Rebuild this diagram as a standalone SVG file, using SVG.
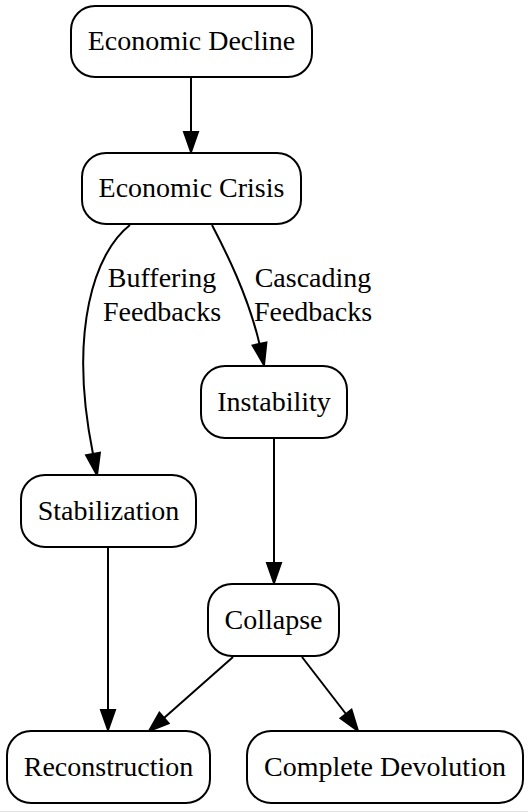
<svg xmlns="http://www.w3.org/2000/svg" width="528" height="812" viewBox="0 0 528 812">
<style>
.node rect{fill:#fff;stroke:#000;stroke-width:2}
text{font-family:"Liberation Serif","Times New Roman",serif;font-size:28px;fill:#000;text-anchor:middle}
.edge path{fill:none;stroke:#000;stroke-width:2}
.edge polygon{fill:#000;stroke:#000;stroke-width:2}
</style>
<rect width="528" height="812" fill="#fff"/>
<rect x="0" y="811" width="528" height="1" fill="#e0e0e0"/>
<g id="connectors">
<g class="edge" id="e-decline-crisis"><path d="M191,77 L191,132"/><polygon points="184,132 198,132 191,152"/></g>
<g class="edge" id="e-crisis-stabilization"><path d="M130,225 C95,252 68,330 93,454"/><polygon points="86.1,455.3 99.9,452.7 97,475"/></g>
<g class="edge" id="e-crisis-instability"><path d="M212,225 C225,250 248,295 259.5,344"/><polygon points="252.6,345.4 266.4,342.6 264,365"/></g>
<g class="edge" id="e-instability-collapse"><path d="M274,438 L274,563"/><polygon points="267,563 281,563 274,583"/></g>
<g class="edge" id="e-stabilization-reconstruction"><path d="M108,547 L108,710"/><polygon points="101,710 115,710 108,730"/></g>
<g class="edge" id="e-collapse-reconstruction"><path d="M233,657 L164,718"/><polygon points="159.4,712.7 168.6,723.3 149,731"/></g>
<g class="edge" id="e-collapse-devolution"><path d="M302,657 L346,714"/><polygon points="340.5,718.3 351.5,709.7 358,731"/></g>
<text x="162" y="287">Buffering</text>
<text x="162" y="321">Feedbacks</text>
<text x="313" y="287">Cascading</text>
<text x="313" y="321">Feedbacks</text>
</g>
<g class="node" id="n-decline"><rect x="71" y="6" width="241" height="71" rx="24"/><text x="191.5" y="50">Economic Decline</text></g>
<g class="node" id="n-crisis"><rect x="82" y="153" width="219" height="71" rx="24"/><text x="191.5" y="197">Economic Crisis</text></g>
<g class="node" id="n-instability"><rect x="201" y="366" width="146" height="72" rx="24"/><text x="274" y="411">Instability</text></g>
<g class="node" id="n-stabilization"><rect x="21" y="475" width="175" height="72" rx="24"/><text x="108.5" y="520">Stabilization</text></g>
<g class="node" id="n-collapse"><rect x="208" y="584" width="131" height="72" rx="24"/><text x="273.5" y="629">Collapse</text></g>
<g class="node" id="n-reconstruction"><rect x="7" y="731" width="203" height="72" rx="24"/><text x="108.5" y="776">Reconstruction</text></g>
<g class="node" id="n-devolution"><rect x="247" y="731" width="276" height="72" rx="24"/><text x="385" y="776">Complete Devolution</text></g>
</svg>
